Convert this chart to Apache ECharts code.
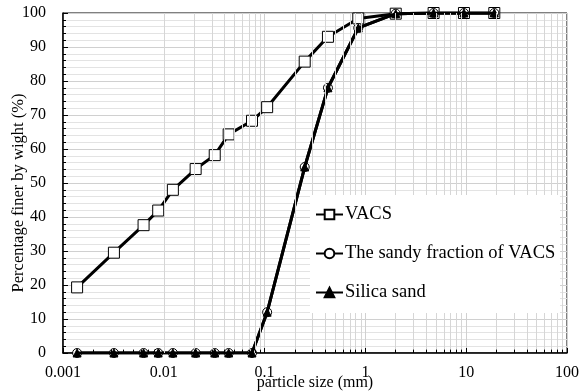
<!DOCTYPE html>
<html>
<head>
<meta charset="utf-8">
<script src="https://cdn.jsdelivr.net/npm/echarts@6/dist/echarts.min.js"></script>
<style>
  html, body { margin: 0; padding: 0; background: #fff; }
  #chart { width: 579px; height: 391px; }
</style>
</head>
<body>
<div id="chart"></div>
<script>
// Particle size distribution (sieve + hydrometer), particle size in mm
const particleSizes = [0.00138, 0.0032, 0.0063, 0.0088, 0.0123, 0.0207, 0.032, 0.044, 0.075, 0.106, 0.25, 0.425, 0.85, 2, 4.75, 9.5, 19];
const vacsFiner = [19.3, 29.5, 37.6, 41.9, 48.0, 54.1, 58.2, 64.3, 68.3, 72.3, 85.7, 93.0, 98.4, 99.8, 100, 100, 100];
const sandyFractionFiner = [0, 0, 0, 0, 0, 0, 0, 0, 0, 12.0, 54.7, 78.0, 95.6, 99.8, 100, 100, 100];
const silicaSandFiner = [0, 0, 0, 0, 0, 0, 0, 0, 0, 12.0, 54.7, 78.0, 95.6, 99.8, 100, 100, 100];
const seriesNames = ['VACS', 'The sandy fraction of VACS', 'Silica sand'];
const xTickLabels = ['0.001', '0.01', '0.1', '1', '10', '100'];

const serif = '"Liberation Serif", "Times New Roman", serif';

// Log-scale minor gridlines at 2..9 within each decade
const minorX = [];
for (let d = -3; d < 2; d++) {
  for (let m = 2; m <= 9; m++) minorX.push(+(m * Math.pow(10, d)).toPrecision(3));
}

const pairs = ys => particleSizes.map((x, i) => [x, ys[i]]);

const chart = echarts.init(document.getElementById('chart'), null, { renderer: 'canvas' });
chart.setOption({
  animation: false,
  backgroundColor: '#fff',
  grid: {
    left: 63, right: 12, top: 13, bottom: 38,
    containLabel: false, outerBoundsMode: 'none',
    show: true, borderColor: '#000', borderWidth: 1, backgroundColor: 'transparent'
  },
  // white panel behind the legend
  graphic: [{
    type: 'rect', left: 310, top: 195, z: 50, silent: true,
    shape: { width: 250, height: 118 },
    style: { fill: '#fff' }
  }],
  legend: {
    data: seriesNames,
    orient: 'vertical',
    left: 311, top: 196, z: 60,
    padding: [9, 4, 9, 4],
    itemGap: 20,
    itemWidth: 27, itemHeight: 12,
    textStyle: { fontFamily: serif, fontSize: 18.5, color: '#000', padding: [0, 0, 0, -3] }
  },
  xAxis: {
    type: 'log', logBase: 10, min: 0.001, max: 100,
    name: 'particle size (mm)', nameLocation: 'middle', nameGap: 22, nameMoveOverlap: false,
    nameTextStyle: { fontFamily: serif, fontSize: 16, color: '#000' },
    axisLine: { lineStyle: { color: '#000', width: 1.5 } },
    axisTick: { show: true, inside: true, length: 5, lineStyle: { color: '#000' } },
    axisLabel: {
      fontFamily: serif, fontSize: 16, color: '#000', margin: 12,
      formatter: v => {
        const i = Math.round(Math.log10(v)) + 3;
        return xTickLabels[i] !== undefined ? xTickLabels[i] : '';
      }
    },
    splitLine: { show: true, lineStyle: { color: '#d0d0d0', width: 1 } }
  },
  yAxis: {
    type: 'value', min: 0, max: 100, interval: 10,
    name: 'Percentage finer by wight (%)', nameLocation: 'middle', nameGap: 36, nameMoveOverlap: false,
    nameTextStyle: { fontFamily: serif, fontSize: 16.5, color: '#000', padding: [0, 20, 0, 0] },
    axisLine: { show: true, lineStyle: { color: '#000', width: 1.5 } },
    axisTick: { show: true, inside: true, length: 5, lineStyle: { color: '#000' } },
    minorTick: { show: true, splitNumber: 5, length: 3, lineStyle: { color: '#000' } },
    axisLabel: { fontFamily: serif, fontSize: 16, color: '#000', margin: 17 },
    splitLine: { show: true, lineStyle: { color: '#d0d0d0', width: 1 } },
    minorSplitLine: { show: true, lineStyle: { color: '#e3e3e3', width: 1 } }
  },
  series: [
    {
      // helper: minor log gridlines and minor ticks on the x axis
      type: 'line', data: [], z: 1, silent: true,
      markLine: {
        silent: true, symbol: 'none', animation: false,
        label: { show: false },
        data: minorX.map(x => ({ xAxis: x, lineStyle: { color: '#d6d6d6', width: 1, type: 'solid' } }))
          .concat(minorX.map(x => [
            { coord: [x, 0], lineStyle: { color: '#000', width: 1, type: 'solid' } },
            { coord: [x, 1] }
          ]))
      }
    },
    {
      name: seriesNames[1], type: 'line', z: 3,
      data: pairs(sandyFractionFiner),
      symbol: 'circle', symbolSize: 9,
      lineStyle: { color: '#000', width: 3 },
      itemStyle: { color: '#fff', borderColor: '#000', borderWidth: 1 }
    },
    {
      name: seriesNames[2], type: 'line', z: 4,
      data: pairs(silicaSandFiner),
      symbol: 'triangle', symbolSize: 8,
      lineStyle: { color: '#000', width: 3 },
      itemStyle: { color: '#000', borderColor: '#000', borderWidth: 1 }
    },
    {
      name: seriesNames[0], type: 'line', z: 2,
      data: pairs(vacsFiner),
      symbol: 'rect', symbolSize: 11,
      lineStyle: { color: '#000', width: 3 },
      itemStyle: { color: '#fff', borderColor: '#000', borderWidth: 1 }
    }
  ]
});
</script>
</body>
</html>
